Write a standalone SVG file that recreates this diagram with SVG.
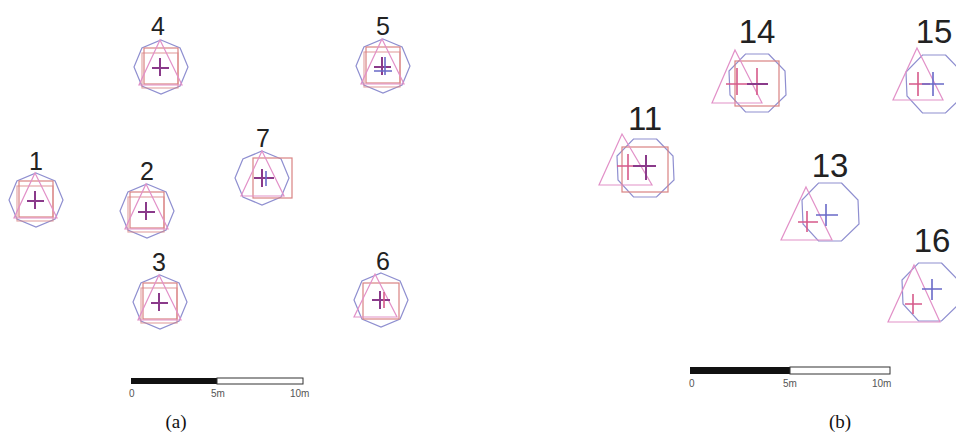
<svg xmlns="http://www.w3.org/2000/svg" width="956" height="439" viewBox="0 0 956 439">
<style>
.oct{fill:none;stroke:#8f8fd0;stroke-width:1.2}
.sq{fill:none;stroke:#d98383;stroke-width:1.2}
.tri{fill:none;stroke:#e291c8;stroke-width:1.2}
.cr{fill:none;stroke:#8a3a8a;stroke-width:2}
.crr{fill:none;stroke:#d65a8a;stroke-width:1.6}
.crb{fill:none;stroke:#6a6ac8;stroke-width:1.6}
.lba{font-family:"Liberation Sans",Arial,sans-serif;font-size:25px;fill:#222;text-anchor:middle}
.lbb{font-family:"Liberation Sans",Arial,sans-serif;font-size:33px;fill:#222;text-anchor:middle}
.sc{font-family:"Liberation Sans",Arial,sans-serif;font-size:10px;fill:#555}
.cap{font-family:"Liberation Serif","Times New Roman",serif;font-size:19px;fill:#111;text-anchor:middle}
</style>
<defs>
<polygon id="octA" class="oct" points="0,-27 19.1,-19.1 27,0 19.1,19.1 0,27 -19.1,19.1 -27,0 -19.1,-19.1"/>
<polygon id="octB" class="oct" points="11.5,-29 28,-12 29,12 11.5,29 -11.5,29 -27,12 -28,-12 -11.5,-29"/>
<g id="shapesA">
<use href="#octA"/>
<rect class="sq" x="-17" y="-19" width="34" height="36"/>
<rect class="sq" x="-19" y="-14" width="36" height="35" opacity="0.7"/>
<polygon class="tri" points="-1,-27 21,18 -22,18"/>
<path class="cr" d="M-1,-9V9M-9,1H8"/>
</g>
</defs>

<g id="node-1" transform="translate(36,200)"><use href="#shapesA"/><text class="lba" x="0" y="-30">1</text></g>
<g id="node-4" transform="translate(161,67)"><use href="#shapesA"/><text class="lba" x="-3" y="-32">4</text></g>
<g id="node-5" transform="translate(383,66)"><use href="#shapesA"/><path class="crb" d="M2,-9V9M-9,5H9"/><text class="lba" x="0" y="-31">5</text></g>
<g id="node-2" transform="translate(147,211)"><use href="#shapesA"/><text class="lba" x="0" y="-31">2</text></g>
<g id="node-3" transform="translate(160,302)"><use href="#shapesA"/><text class="lba" x="-1" y="-31">3</text></g>
<g id="node-6" transform="translate(381,300)">
<use href="#octA"/>
<rect class="sq" x="-18" y="-17" width="36" height="36"/>
<polygon class="tri" points="-6,-26 16,17 -27,17"/>
<path class="cr" d="M-1,-9V9M-9,0H9"/><path class="crr" d="M3,-8V8"/>
<text class="lba" x="2" y="-30">6</text></g>
<g id="node-7" transform="translate(262,178)">
<use href="#octA"/>
<rect class="sq" x="-9" y="-20" width="39" height="40"/>
<polygon class="tri" points="0,-27 22,18 -21,18"/>
<path class="cr" d="M0,-9V9M-8,0H12"/><path class="crb" d="M4,-7V8"/>
<text class="lba" x="1" y="-31">7</text></g>

<g id="node-11" transform="translate(645,168)">
<use href="#octB"/>
<rect class="sq" x="-23" y="-21" width="46" height="45"/>
<polygon class="tri" points="-23,-34 7,17 -46,17"/>
<path class="crr" d="M-17,-14V12M-28,-2H-5"/><path class="cr" d="M1,-13V12M-12,-2H11"/>
<text class="lbb" x="0" y="-38">11</text></g>
<g id="node-14" transform="translate(757,83)">
<use href="#octB"/>
<rect class="sq" x="-22" y="-22" width="44" height="45"/>
<polygon class="tri" points="-22,-33 5,20 -45,20"/>
<path class="crr" d="M-20,-15V12M-31,1H-8"/><path class="crr" d="M0,-15V12"/><path class="cr" d="M-10,1H11"/>
<text class="lbb" x="0" y="-40">14</text></g>
<g id="node-15" transform="translate(934,84)">
<use href="#octB"/>
<polygon class="tri" points="-17,-36 9,16 -41,16"/>
<path class="crr" d="M-16,-12V12M-25,0H-4"/><path class="crb" d="M-1,-12V12M-12,0H10"/>
<text class="lbb" x="0" y="-41">15</text></g>
<g id="node-13" transform="translate(830,212)">
<use href="#octB"/>
<polygon class="tri" points="-24,-25 2,28 -49,28"/>
<path class="crr" d="M-23,-1V20M-32,10H-12"/><path class="crb" d="M-4,-8V14M-14,3H8"/>
<text class="lbb" x="0" y="-35">13</text></g>
<g id="node-16" transform="translate(930,292)">
<use href="#octB"/>
<polygon class="tri" points="-16,-27 10,30 -42,30"/>
<path class="crr" d="M-17,2V22M-25,12H-8"/><path class="crb" d="M2,-13V8M-8,-3H12"/>
<text class="lbb" x="2" y="-40">16</text></g>

<g id="scale-a">
<rect x="131" y="378" width="86" height="6" fill="#111"/>
<rect x="217" y="378" width="86" height="6" fill="#fff" stroke="#333" stroke-width="1"/>
<text class="sc" x="129" y="397">0</text>
<text class="sc" x="211" y="397">5m</text>
<text class="sc" x="290" y="397">10m</text>
</g>
<g id="scale-b">
<rect x="690" y="367" width="100" height="7" fill="#111"/>
<rect x="790" y="367" width="100" height="7" fill="#fff" stroke="#333" stroke-width="1"/>
<text class="sc" x="689" y="387">0</text>
<text class="sc" x="783" y="387">5m</text>
<text class="sc" x="872" y="387">10m</text>
</g>
<text class="cap" x="176" y="428">(a)</text>
<text class="cap" x="840" y="428">(b)</text>
</svg>
